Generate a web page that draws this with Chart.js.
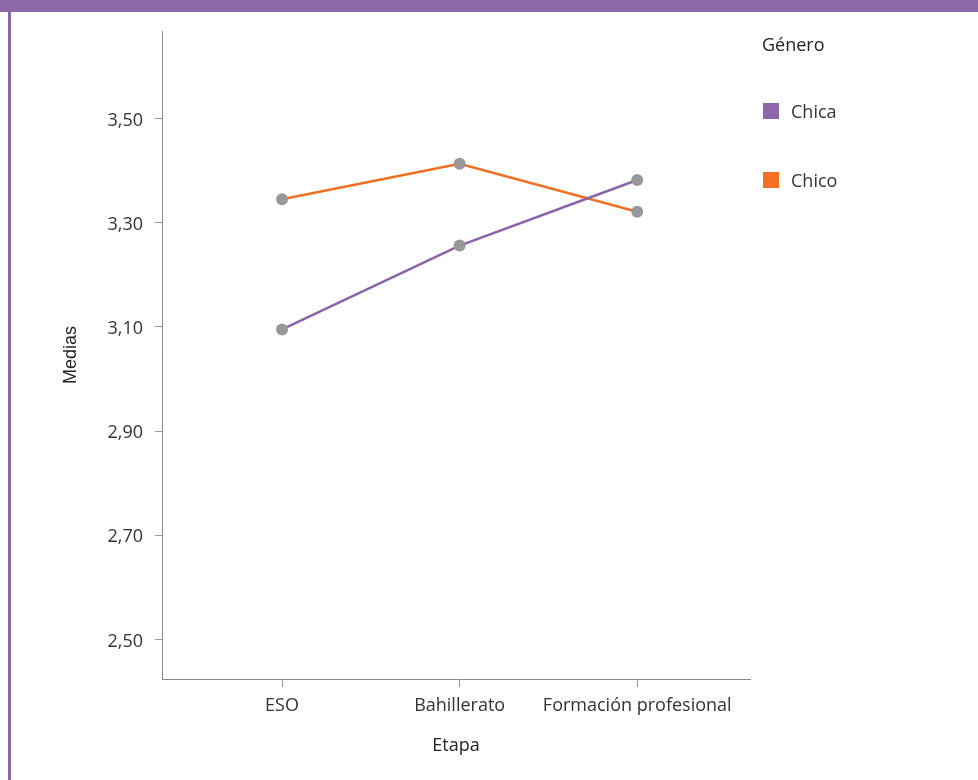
<!DOCTYPE html>
<html>
<head>
<meta charset="utf-8">
<script src="https://cdn.jsdelivr.net/npm/chart.js@4.4.1/dist/chart.umd.min.js"></script>
<style>
  html, body { margin: 0; padding: 0; background: #fff; }
  #wrap { position: relative; width: 978px; height: 780px; overflow: hidden; font-family: "Open Sans", Lato, sans-serif; }
  #topbar { position: absolute; left: 0; top: 0; width: 978px; height: 12px; background: #8c67aa; }
  #leftbar { position: absolute; left: 8px; top: 0; width: 3px; height: 780px; background: #8c67aa; }
  #chart { position: absolute; left: 0; top: 0; }
  #legend { position: absolute; left: 762px; top: 31px; color: #222; }
  #legend .title { font-size: 18px; line-height: 26px; height: 26px; }
  #legend .item { position: absolute; left: 1px; white-space: nowrap; font-size: 18px; color: #333; }
  #legend .sw { position: absolute; left: 0; width: 16px; height: 16px; }
  #legend .lab { position: absolute; left: 28px; top: -5px; line-height: 26px; }
</style>
</head>
<body>
<div id="wrap">
  <canvas id="chart" width="978" height="780"></canvas>
  <div id="topbar"></div>
  <div id="leftbar"></div>
  <div id="legend"></div>
</div>
<script>
// ---- data ----
const categories = ["ESO", "Bahillerato", "Formación profesional"];
const seriesNames = ["Chica", "Chico"];
const chicaValues = [3.095, 3.256, 3.382];
const chicoValues = [3.345, 3.413, 3.321];
const yTickValues = [2.5, 2.7, 2.9, 3.1, 3.3, 3.5];
const yAxisTitle = "Medias";
const xAxisTitle = "Etapa";
const legendTitle = "Género";

const colors = ["#8a63a8", "#f07023"];
const legendColors = ["#8c67aa", "#f37021"];
const FONT = "'Open Sans', Lato, sans-serif";

function toPoints(vals) { return vals.map((v, i) => ({ x: i, y: v })); }

const datasets = [chicaValues, chicoValues].map((vals, k) => ({
  label: seriesNames[k],
  data: toPoints(vals),
  borderColor: colors[k],
  backgroundColor: colors[k],
  borderWidth: 2.5,
  pointRadius: 6,
  pointHoverRadius: 6,
  pointBackgroundColor: "#98989a",
  pointBorderWidth: 0,
  tension: 0
}));

new Chart(document.getElementById("chart"), {
  type: "line",
  data: { datasets },
  options: {
    responsive: false,
    animation: false,
    events: [],
    layout: { padding: { top: 31, left: 12, right: 228, bottom: 0 } },
    plugins: { legend: { display: false }, tooltip: { enabled: false } },
    scales: {
      x: {
        type: "linear",
        min: -0.676,
        max: 2.635,
        afterBuildTicks: (s) => { s.ticks = categories.map((c, i) => ({ value: i })); },
        afterFit: (s) => { s.height = 101; },
        ticks: {
          callback: (v) => categories[v],
          color: "#333",
          font: { family: FONT, size: 18 },
          padding: 8,
          maxRotation: 0
        },
        grid: { display: true, drawOnChartArea: false, tickLength: 8, color: "#999", lineWidth: 1 },
        border: { display: true, color: "#888", width: 1 },
        title: { display: true, text: xAxisTitle, color: "#222", font: { family: FONT, size: 18 }, padding: { top: 0, bottom: 23 } }
      },
      y: {
        type: "linear",
        min: 2.424,
        max: 3.668,
        afterBuildTicks: (s) => { s.ticks = yTickValues.map(v => ({ value: v })); },
        afterFit: (s) => { s.width = 150; },
        ticks: {
          callback: (v) => v.toFixed(2).replace(".", ","),
          color: "#333",
          font: { family: FONT, size: 18 },
          padding: 12,
          labelOffset: 2
        },
        grid: { display: true, drawOnChartArea: false, tickLength: 7, color: "#999", lineWidth: 1 },
        border: { display: true, color: "#888", width: 1 },
        title: { display: true, text: yAxisTitle, color: "#222", font: { family: "'Liberation Sans', Arial, sans-serif", size: 18 }, padding: { top: 48, bottom: 0 } }
      }
    }
  }
});

// HTML legend built from the series
const legend = document.getElementById("legend");
const t = document.createElement("div");
t.className = "title";
t.textContent = legendTitle;
legend.appendChild(t);
seriesNames.forEach((name, k) => {
  const it = document.createElement("div");
  it.className = "item";
  it.style.top = (72 + k * 69) + "px";
  it.innerHTML = '<span class="sw" style="background:' + legendColors[k] + '"></span><span class="lab"></span>';
  it.querySelector(".lab").textContent = name;
  legend.appendChild(it);
});
</script>
</body>
</html>
